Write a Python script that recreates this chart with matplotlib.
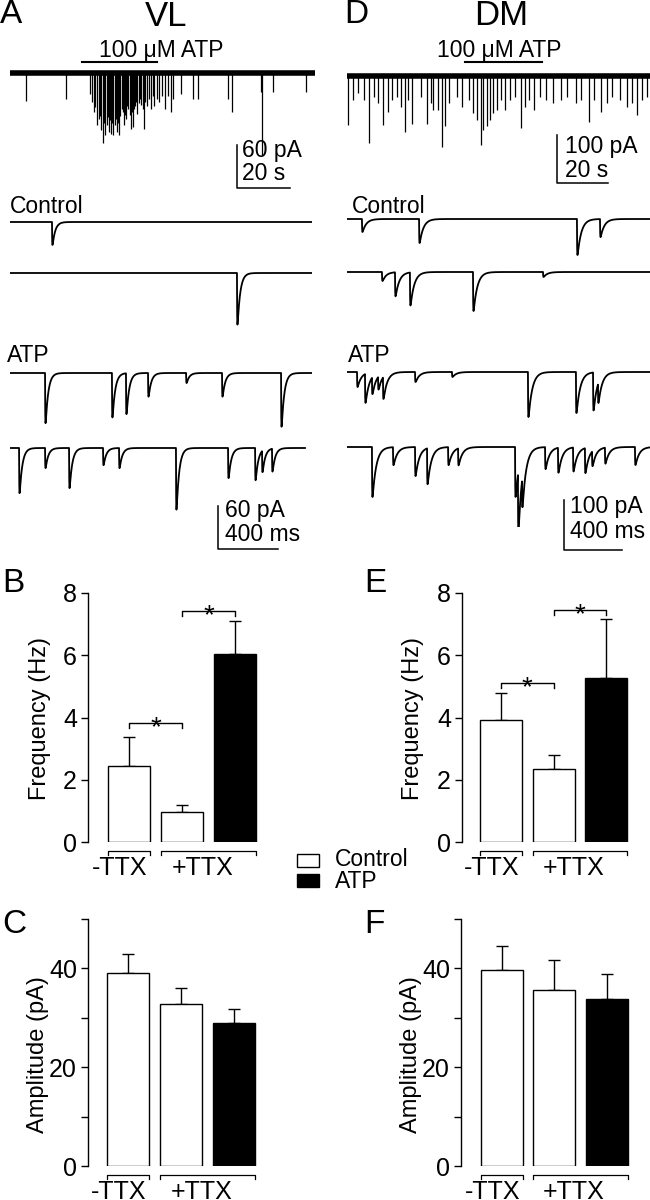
import numpy as np
import matplotlib
matplotlib.use('Agg')
import matplotlib.pyplot as plt
from matplotlib.patches import Rectangle

plt.rcParams['font.family'] = ['Liberation Sans', 'DejaVu Sans']
plt.rcParams['font.size'] = 16.5

# ---------------- data ----------------
CONDITIONS = ['-TTX Control', '+TTX Control', '+TTX ATP']
BAR_COLORS = ['white', 'white', 'black']
GROUPS = ['-TTX', '+TTX']

VL_FREQ = [2.45, 0.95, 6.04]
VL_FREQ_SEM = [0.93, 0.24, 1.06]
DM_FREQ = [3.92, 2.34, 5.28]
DM_FREQ_SEM = [0.86, 0.46, 1.88]
VL_AMP = [39.1, 32.7, 29.0]
VL_AMP_SEM = [3.8, 3.3, 2.7]
DM_AMP = [39.7, 35.6, 33.8]
DM_AMP_SEM = [4.8, 6.0, 5.1]

# overview traces (event time s, amplitude pA)
VL_TOP_T = [5.9, 21.0, 30.2, 30.8, 31.7, 32.2, 32.7, 33.4, 33.8, 34.3, 34.9, 35.3, 35.8, 36.4,
            36.8, 37.2, 37.6, 38.1, 38.5, 39.0, 39.6, 40.0, 40.5, 40.9, 41.2, 41.6, 42.1, 42.5,
            43.0, 43.4, 43.7, 44.2, 44.6, 45.1, 45.5, 45.9, 46.3, 46.7, 47.1, 47.6, 48.0, 48.5,
            49.0, 49.5, 50.0, 50.6, 51.0, 51.5, 52.3, 53.0, 53.8, 54.4, 55.3, 56.0, 57.2, 58.4,
            59.4, 60.6, 61.6, 64.3, 68.9, 71.0, 82.1, 83.8, 94.6, 95.1, 99.3, 111.6]
VL_TOP_A = [39, 36, 29, 41, 55, 48, 73, 64, 60, 80, 97, 70, 87, 73,
            62, 83, 66, 85, 70, 87, 73, 64, 83, 70, 87, 60, 50, 55,
            73, 58, 64, 46, 50, 58, 78, 55, 76, 50, 46, 40, 57, 42,
            36, 45, 50, 78, 40, 46, 36, 50, 32, 46, 36, 41, 32, 50,
            32, 55, 36, 29, 36, 36, 36, 55, 27, 115, 27, 27]

DM_TOP_T = [0.3, 2.5, 4.5, 6.8, 8.8, 10.7, 12.3, 14.0, 16.0, 17.5, 19.5, 21.2, 22.8, 24.1,
            25.6, 29.1, 31.3, 33.0, 33.9, 35.6, 37.4, 38.5, 40.1, 43.1, 45.0, 47.9, 49.6,
            50.9, 52.5, 53.5, 54.9, 56.2, 57.5, 58.8, 60.5, 62.0, 64.0, 66.0, 68.3, 69.9,
            71.5, 73.6, 75.8, 78.0, 81.0, 84.0, 86.3, 89.8, 91.9, 95.0, 97.1, 99.7, 102.0,
            104.2, 107.2, 109.8, 111.8, 113.8, 115.7, 117.7]
DM_TOP_A = [102, 50, 36, 50, 140, 43, 57, 102, 74, 50, 43, 64, 116, 50,
            99, 43, 99, 57, 71, 71, 147, 105, 57, 43, 64, 50, 78,
            92, 144, 112, 105, 92, 78, 71, 50, 71, 50, 43, 109, 64,
            50, 71, 43, 50, 57, 50, 43, 57, 50, 95, 50, 74, 57,
            43, 50, 64, 57, 81, 50, 43]

# sweeps (event time ms, amplitude pA)
VL_CTRL1_T = [278]
VL_CTRL1_A = [32]
VL_CTRL2_T = [1503]
VL_CTRL2_A = [72]
VL_ATP1_T = [232, 675, 768, 914, 1166, 1404, 1795]
VL_ATP1_A = [70, 62, 57, 33, 14, 33, 75]
VL_ATP2_T = [60, 232, 391, 616, 722, 1099, 1444, 1623, 1669, 1735]
VL_ATP2_A = [63, 28, 56, 24, 28, 86, 42, 45, 30, 32]

DM_CTRL1_T = [103, 497, 1586, 1745]
DM_CTRL1_A = [26, 48, 72, 36]
DM_CTRL2_T = [241, 331, 434, 869, 1352]
DM_CTRL2_A = [18, 48, 66, 78, 10]
DM_ATP1_T = [69, 124, 172, 214, 248, 469, 724, 1248, 1579, 1697, 1731]
DM_ATP1_A = [30, 58, 34, 26, 44, 20, 10, 90, 82, 76, 40]
DM_ATP2_T = [172, 317, 469, 552, 697, 766, 1159, 1179, 1207, 1366, 1455, 1559, 1641, 1690, 1779, 1986]
DM_ATP2_A = [100, 36, 58, 72, 36, 34, 100, 120, 60, 44, 50, 48, 50, 30, 32, 36]

# ---------------- figure ----------------
W, H = 650, 1200
fig = plt.figure(figsize=(W / 100, H / 100), dpi=100)


def px_axes(x0, y0, x1, y1):
    return fig.add_axes([x0 / W, 1 - y1 / H, (x1 - x0) / W, (y1 - y0) / H])


ov = px_axes(0, 0, W, H)
ov.set_xlim(0, W)
ov.set_ylim(H, 0)
ov.axis('off')


def trace_axes(x0, x1, tmax, base, ppu, top, bot):
    ax = px_axes(x0, top, x1, bot)
    ax.set_xlim(0, tmax)
    ax.set_ylim(-(bot - base) / ppu, (base - top) / ppu)
    ax.axis('off')
    return ax


def overview(ax, times, amps, tmax):
    ax.plot([0, tmax], [0, 0], color='k', lw=4.0, solid_capstyle='butt')
    ax.vlines(times, -np.array(amps, dtype=float), 0, color='k', lw=0.9)


def sweep(ax, times, amps, tmax, tau_d, tau_r=1.2):
    t = np.arange(0, tmax, 0.5)
    y = np.zeros_like(t)
    tp = tau_r * tau_d / (tau_d - tau_r) * np.log(tau_d / tau_r)
    norm = np.exp(-tp / tau_d) - np.exp(-tp / tau_r)
    for t0, a in zip(times, amps):
        s = t - t0
        m = s > 0
        y[m] -= a * (np.exp(-s[m] / tau_d) - np.exp(-s[m] / tau_r)) / norm
    ax.plot(t, y, color='k', lw=1.3)


# ---- A: VL overview ----
vl_ppu = 43 / 60.0
axA = trace_axes(10, 315, 115, 73, vl_ppu, 30, 200)
overview(axA, VL_TOP_T, VL_TOP_A, 115)
axA.plot([27.1, 55.4], [15.3, 15.3], color='k', lw=1.5, clip_on=False)
axA.text(33.5, 22, '100 μM ATP', ha='left', va='baseline', clip_on=False)
tx = (237 - 10) / 305 * 115
yb = -(188 - 73) / vl_ppu
axA.plot([tx, tx, tx + 20], [yb + 60, yb, yb], color='k', lw=1.1, clip_on=False)
axA.text(tx + 2.0, -(157 - 73) / vl_ppu, '60 pA', ha='left', va='baseline')
axA.text(tx + 2.0, -(180 - 73) / vl_ppu, '20 s', ha='left', va='baseline')

# ---- D: DM overview ----
dm_ppu = 48 / 100.0
axD = trace_axes(347, 650, 119, 76, dm_ppu, 30, 200)
overview(axD, DM_TOP_T, DM_TOP_A, 119)
axD.plot([46.3, 76.6], [29, 29], color='k', lw=1.5, clip_on=False)
axD.text(35.4, (76 - 57) / dm_ppu, '100 μM ATP', ha='left', va='baseline', clip_on=False)
tx = (557 - 347) / 303 * 119
yb = -(183 - 76) / dm_ppu
axD.plot([tx, tx, tx + 20], [yb + 100, yb, yb], color='k', lw=1.1, clip_on=False)
axD.text(tx + 3.0, -(153 - 76) / dm_ppu, '100 pA', ha='left', va='baseline')
axD.text(tx + 3.0, -(177 - 76) / dm_ppu, '20 s', ha='left', va='baseline')

# ---- VL sweeps ----
vs_ppu = 43 / 60.0
vl_sweeps = [(222, VL_CTRL1_T, VL_CTRL1_A, 2000), (273, VL_CTRL2_T, VL_CTRL2_A, 2000),
             (373, VL_ATP1_T, VL_ATP1_A, 2000), (448, VL_ATP2_T, VL_ATP2_A, 1954)]
for base, tt, aa, tm in vl_sweeps:
    ax = trace_axes(10, 312, 2000, base, vs_ppu, base - 15, base + 70)
    sweep(ax, tt, aa, tm, tau_d=18)
tx = (218 - 10) / 0.151
yb = -(549 - 448) / vs_ppu
ax.plot([tx, tx, tx + 400], [yb + 60, yb, yb], color='k', lw=1.1, clip_on=False)
ax.text(tx + 45, -(517 - 448) / vs_ppu, '60 pA', ha='left', va='baseline', clip_on=False)
ax.text(tx + 45, -(541 - 448) / vs_ppu, '400 ms', ha='left', va='baseline', clip_on=False)

# ---- DM sweeps ----
ds_ppu = 50 / 100.0
dm_sweeps = [(219, DM_CTRL1_T, DM_CTRL1_A), (272, DM_CTRL2_T, DM_CTRL2_A),
             (372, DM_ATP1_T, DM_ATP1_A), (447, DM_ATP2_T, DM_ATP2_A)]
for base, tt, aa in dm_sweeps:
    ax = trace_axes(347, 650, 2090, base, ds_ppu, base - 15, base + 80)
    sweep(ax, tt, aa, 2090, tau_d=26)
tx = (564 - 347) / 0.145
yb = -(550 - 447) / ds_ppu
ax.plot([tx, tx, tx + 400], [yb + 100, yb, yb], color='k', lw=1.1, clip_on=False)
ax.text(tx + 40, -(513 - 447) / ds_ppu, '100 pA', ha='left', va='baseline', clip_on=False)
ax.text(tx + 40, -(538 - 447) / ds_ppu, '400 ms', ha='left', va='baseline', clip_on=False)


# ---- bar panels ----
def bar_panel(spine_x, c1, sp, y0, ytop, ymax, vals, sems, ticks, labels, sig=None):
    right = spine_x + 175
    ax = px_axes(spine_x, ytop, right, y0)
    ppu = (y0 - ytop) / ymax
    x = np.arange(3)
    ax.set_xlim(-(c1 - spine_x) / sp, (right - c1) / sp)
    ax.set_ylim(0, ymax)
    bw = 42 / sp
    ax.bar(x, vals, width=bw, color=BAR_COLORS, edgecolor='k', linewidth=1.0, zorder=2)
    ax.errorbar(x, vals, yerr=[np.zeros(3), sems], fmt='none', ecolor='k',
                elinewidth=1.0, capsize=4, capthick=1.0, zorder=1)
    for s in ['top', 'right', 'bottom']:
        ax.spines[s].set_visible(False)
    ax.spines['left'].set_bounds(0, ymax)
    ax.spines['left'].set_linewidth(1.0)
    ax.set_xticks([])
    ax.set_yticks(ticks)
    ax.set_yticklabels(labels)
    ax.tick_params(axis='y', length=5, width=1.0, pad=3, labelsize=18)
    ax.patch.set_visible(False)
    # group brackets
    yb = -9 / ppu
    yt = -13 / ppu
    h = bw / 2
    for xa, xb in [(0 - h, 0 + h), (1 - h, 2 + h)]:
        ax.plot([xa, xa, xb, xb], [yt, yb, yb, yt], color='k', lw=0.9, clip_on=False)
    ax.text(-0.17, -26 / ppu, GROUPS[0], ha='center', va='center', fontsize=18)
    ax.text(1.38, -26 / ppu, GROUPS[1], ha='center', va='center', fontsize=18)
    if sig:
        for (xa, xb, ylev) in sig:
            yl = ylev
            yd = ylev - 5 / ppu
            ax.plot([xa, xa, xb, xb], [yd, yl, yl, yd], color='k', lw=1.0, clip_on=False)
            ax.annotate('*', xy=((xa + xb) / 2, yl), xytext=(0, -9), textcoords='offset points',
                        ha='center', va='baseline', fontsize=20)
    return ax


freq_ticks = [0, 2, 4, 6, 8]
bar_panel(88, 129, 53, 842, 593, 8, VL_FREQ, VL_FREQ_SEM, freq_ticks,
          [str(v) for v in freq_ticks], sig=[(0, 1, 3.82), (1, 2, 7.42)])
bar_panel(462, 501, 52.5, 842, 593, 8, DM_FREQ, DM_FREQ_SEM, freq_ticks,
          [str(v) for v in freq_ticks], sig=[(0, 1, 5.11), (1, 2, 7.45)])
amp_ticks = [0, 10, 20, 30, 40, 50]
amp_labels = ['0', '', '20', '', '40', '']
bar_panel(88, 128, 53, 1166, 919, 50, VL_AMP, VL_AMP_SEM, amp_ticks, amp_labels)
bar_panel(461, 501.5, 52.5, 1166, 919, 50, DM_AMP, DM_AMP_SEM, amp_ticks, amp_labels)

# y labels
ov.text(40, 718, 'Frequency (Hz)', rotation=90, ha='center', va='center', fontsize=17)
ov.text(413, 718, 'Frequency (Hz)', rotation=90, ha='center', va='center', fontsize=17)
ov.text(38, 1055, 'Amplitude (pA)', rotation=90, ha='center', va='center', fontsize=17)
ov.text(411, 1055, 'Amplitude (pA)', rotation=90, ha='center', va='center', fontsize=17)

# legend
ov.add_patch(Rectangle((297, 854), 22, 13, facecolor='white', edgecolor='k', lw=1.0))
ov.add_patch(Rectangle((297, 874), 22, 13, facecolor='black', edgecolor='k', lw=1.0))
ov.text(335, 866, 'Control', ha='left', va='baseline')
ov.text(335, 888, 'ATP', ha='left', va='baseline')

# trace labels
ov.text(10, 213, 'Control', ha='left', va='baseline')
ov.text(352, 213, 'Control', ha='left', va='baseline')
ov.text(7, 362, 'ATP', ha='left', va='baseline')
ov.text(348, 362, 'ATP', ha='left', va='baseline')

# titles and panel letters
ov.text(166, 26, 'VL', ha='center', va='baseline', fontsize=25)
ov.text(501, 25, 'DM', ha='center', va='baseline', fontsize=25)
for letter, x, y in [('A', 0, 23), ('D', 344, 23), ('B', 2, 592), ('E', 364, 592),
                     ('C', 2, 933), ('F', 364, 933)]:
    ov.text(x, y, letter, ha='left', va='baseline', fontsize=24)

fig.savefig('out.png', dpi=100)
